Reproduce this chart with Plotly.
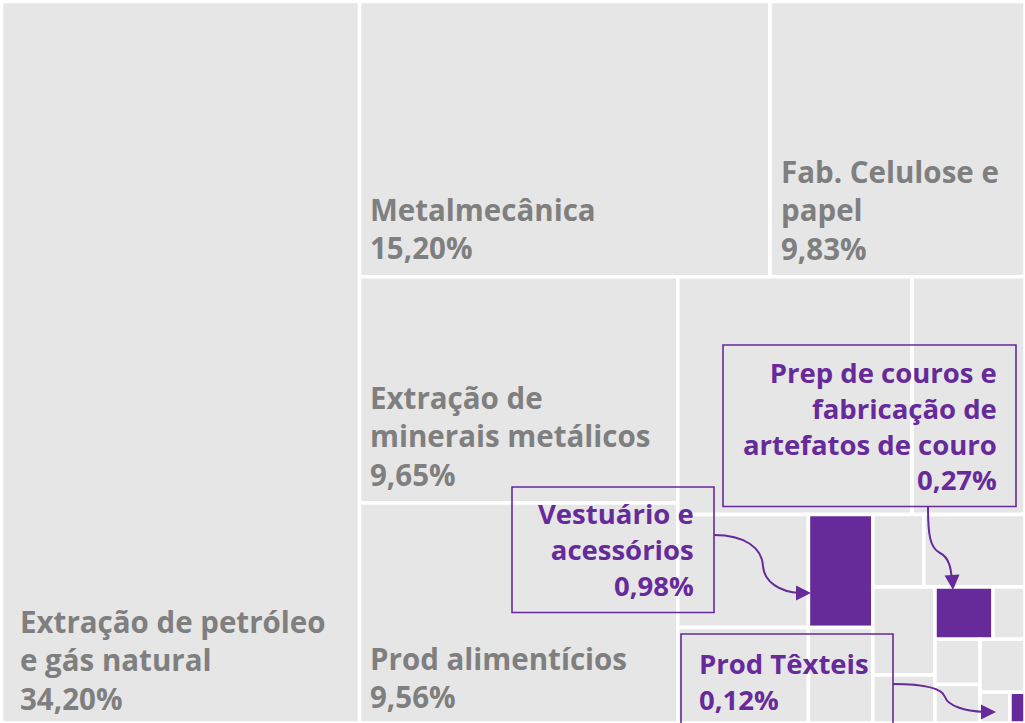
import plotly.graph_objects as go

# -------------------------------------------------
# Dados (ordem do mosaico, sem reordenar)
# -------------------------------------------------
setores = [
    "Extração de petróleo e gás natural",
    "Metalmecânica",
    "Fab. Celulose e papel",
    "Extração de minerais metálicos",
    "Prod alimentícios",
    "Outros 1",
    "Outros 2",
    "Outros 3",
    "Outros 4",
    "Vestuário e acessórios",
    "Outros 5",
    "Outros 6",
    "Outros 7",
    "Outros 8",
    "Outros 9",
    "Prep de couros e fabricação de artefatos de couro",
    "Outros 10",
    "Outros 11",
    "Outros 12",
    "Outros 13",
    "Outros 14",
    "Prod Têxteis",
]

# tamanho de cada bloco (% da área visível)
tamanhos = [
    34.98, 15.298, 9.503, 9.751, 9.48,
    7.55, 3.634, 2.00, 1.69, 0.987, 0.834,
    0.50, 0.99, 0.741, 0.403, 0.411, 0.226,
    0.277, 0.234, 0.323, 0.125, 0.0626,
]

# rótulos dos cinco maiores blocos
rotulos = [
    "Extração de petróleo<br>e gás natural<br>34,20%",
    "Metalmecânica<br>15,20%",
    "Fab. Celulose e<br>papel<br>9,83%",
    "Extração de<br>minerais metálicos<br>9,65%",
    "Prod alimentícios<br>9,56%",
]

destaques = [
    "Vestuário e acessórios",
    "Prep de couros e fabricação de artefatos de couro",
    "Prod Têxteis",
]

chamadas = [
    "Prep de couros e<br>fabricação de<br>artefatos de couro<br>0,27%",
    "Vestuário e<br>acessórios<br>0,98%",
    "Prod Têxteis<br>0,12%",
]

ROXO = "#662A9A"
CINZA = "#E6E6E6"
FONTE = "Open Sans"

W, H = 1025, 723


def px(x):
    return x / W


def py(y):
    return 1 - y / H


cores = [ROXO if s in destaques else CINZA for s in setores]

fig = go.Figure(
    go.Treemap(
        labels=setores,
        parents=[""] * len(setores),
        values=tamanhos,
        sort=False,
        textinfo="none",
        marker=dict(
            colors=cores,
            line=dict(color="white", width=3.5),
            pad=dict(t=0, l=0, r=0, b=0),
        ),
        tiling=dict(packing="squarify", squarifyratio=1, pad=0),
        pathbar=dict(visible=False),
        root=dict(color="white"),
        hoverinfo="none",
        domain=dict(x=[1.5 / W, 1], y=[0, 1 - 1.5 / H]),
    )
)

# -------------------------------------------------
# Rótulos dos blocos (canto inferior esquerdo)
# -------------------------------------------------
pos_rotulos = [(18, 599), (368, 187), (779, 149), (368, 375), (368, 636)]
for txt, (x, y) in zip(rotulos, pos_rotulos):
    fig.add_annotation(
        x=px(x),
        y=py(y),
        xref="paper",
        yref="paper",
        text=txt,
        showarrow=False,
        align="left",
        xanchor="left",
        yanchor="top",
        font=dict(family=FONTE, size=29.5, color="#7F7F7F", weight=700),
    )

# -------------------------------------------------
# Caixas das chamadas
# -------------------------------------------------
caixas = [(723, 345, 1016, 506.5), (512, 487, 714, 612.5), (681, 634, 893, 760)]
for x0, y0, x1, y1 in caixas:
    fig.add_shape(
        type="rect",
        xref="paper",
        yref="paper",
        x0=px(x0),
        x1=px(x1),
        y0=py(y1),
        y1=py(y0),
        line=dict(color=ROXO, width=1.6),
        fillcolor="rgba(0,0,0,0)",
        layer="above",
    )

# textos das chamadas
pos_texto = [(999, 352, "right"), (696, 493, "right"), (697, 643, "left")]
for txt, (x, y, al) in zip(chamadas, pos_texto):
    fig.add_annotation(
        x=px(x),
        y=py(y),
        xref="paper",
        yref="paper",
        text=txt,
        showarrow=False,
        align=al,
        xanchor=al,
        yanchor="top",
        font=dict(family=FONTE, size=27.5, color=ROXO, weight=700),
    )

# -------------------------------------------------
# Conectores curvos + pontas de seta
# -------------------------------------------------
curvas = [
    [(714, 535), (745, 535), (762, 548), (763, 566), (764, 582), (780, 592), (800, 593)],
    [(928, 507), (928, 535), (930, 548), (940, 553), (950, 558), (951, 570), (952, 580)],
    [(893, 684), (925, 684), (942, 688), (945, 697), (948, 706), (965, 711), (984, 712)],
]
for c in curvas:
    p = "M {} {}".format(px(c[0][0]), py(c[0][1]))
    p += " C " + " ".join("{} {}".format(px(x), py(y)) for x, y in c[1:4])
    p += " C " + " ".join("{} {}".format(px(x), py(y)) for x, y in c[4:7])
    fig.add_shape(
        type="path",
        xref="paper",
        yref="paper",
        path=p,
        line=dict(color=ROXO, width=2),
        layer="above",
    )

pontas = [(811, 593, -16, 0), (953, 590, -1, -16), (996, 712, -16, 0)]
for x, y, ax, ay in pontas:
    fig.add_annotation(
        x=px(x),
        y=py(y),
        xref="paper",
        yref="paper",
        ax=ax,
        ay=ay,
        text="",
        showarrow=True,
        arrowhead=2,
        arrowsize=1.5,
        arrowwidth=2,
        arrowcolor=ROXO,
        standoff=0,
    )

fig.update_layout(
    width=W,
    height=H,
    margin=dict(l=0, r=0, t=0, b=0),
    paper_bgcolor="white",
    showlegend=False,
)

# figura estática (sem contorno de hover) e sem a margem padrão do <body>
fig.write_html(
    "out.html",
    config={"displayModeBar": False, "staticPlot": True},
    post_script="document.body.style.margin='0';",
)
